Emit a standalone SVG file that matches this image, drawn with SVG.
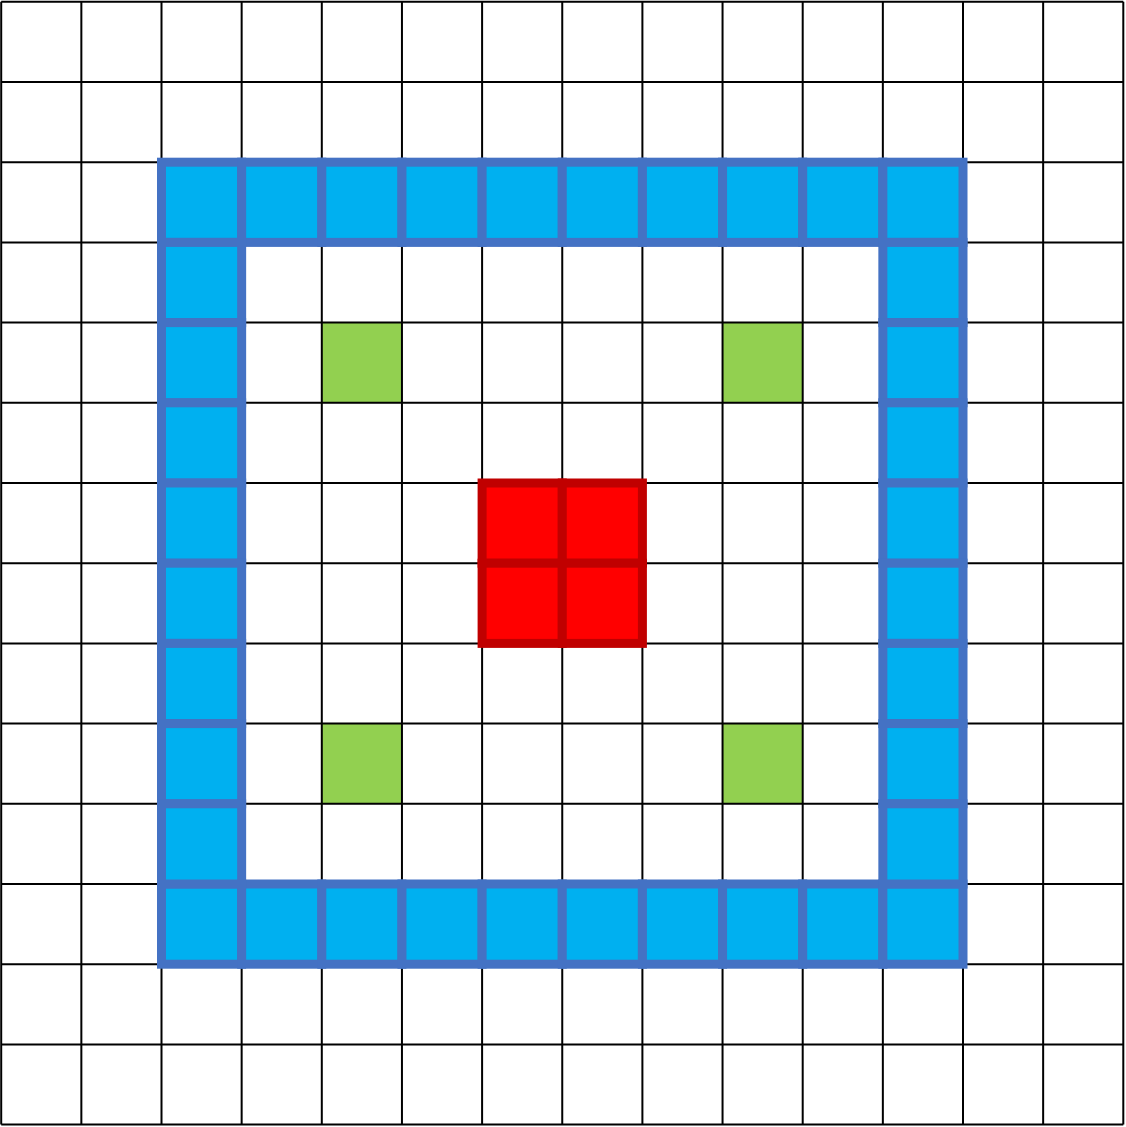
<svg xmlns="http://www.w3.org/2000/svg" width="1126" height="1127" viewBox="0 0 1126 1127">
<style>
.grid{stroke:#000;stroke-width:2;fill:none}
.g{fill:#92D050}
.b{fill:#00B0F0;stroke:#4472C4;stroke-width:9}
.r{fill:#FF0000;stroke:#C00000;stroke-width:9}
</style>
<rect width="1126" height="1127" fill="#fff"/>
<g id="green">
<rect class="g" x="321.8" y="322.6" width="80.15" height="80.2"/>
<rect class="g" x="722.55" y="322.6" width="80.15" height="80.2"/>
<rect class="g" x="321.8" y="723.6" width="80.15" height="80.2"/>
<rect class="g" x="722.55" y="723.6" width="80.15" height="80.2"/>
</g>
<g id="grid" class="grid">
<path d="M1.2 1.8V1124.6M81.35 1.8V1124.6M161.5 1.8V1124.6M241.65 1.8V1124.6M321.8 1.8V1124.6M401.95 1.8V1124.6M482.1 1.8V1124.6M562.25 1.8V1124.6M642.4 1.8V1124.6M722.55 1.8V1124.6M802.7 1.8V1124.6M882.85 1.8V1124.6M963 1.8V1124.6M1043.15 1.8V1124.6M1123.3 1.8V1124.6"/>
<path d="M1.2 1.8H1123.3M1.2 82H1123.3M1.2 162.2H1123.3M1.2 242.4H1123.3M1.2 322.6H1123.3M1.2 402.8H1123.3M1.2 483H1123.3M1.2 563.2H1123.3M1.2 643.4H1123.3M1.2 723.6H1123.3M1.2 803.8H1123.3M1.2 884H1123.3M1.2 964.2H1123.3M1.2 1044.4H1123.3M1.2 1124.6H1123.3"/>
</g>
<g id="wall">
<rect class="b" x="161.5" y="162.2" width="80.15" height="80.2"/>
<rect class="b" x="241.65" y="162.2" width="80.15" height="80.2"/>
<rect class="b" x="321.8" y="162.2" width="80.15" height="80.2"/>
<rect class="b" x="401.95" y="162.2" width="80.15" height="80.2"/>
<rect class="b" x="482.1" y="162.2" width="80.15" height="80.2"/>
<rect class="b" x="562.25" y="162.2" width="80.15" height="80.2"/>
<rect class="b" x="642.4" y="162.2" width="80.15" height="80.2"/>
<rect class="b" x="722.55" y="162.2" width="80.15" height="80.2"/>
<rect class="b" x="802.7" y="162.2" width="80.15" height="80.2"/>
<rect class="b" x="882.85" y="162.2" width="80.15" height="80.2"/>
<rect class="b" x="161.5" y="884" width="80.15" height="80.2"/>
<rect class="b" x="241.65" y="884" width="80.15" height="80.2"/>
<rect class="b" x="321.8" y="884" width="80.15" height="80.2"/>
<rect class="b" x="401.95" y="884" width="80.15" height="80.2"/>
<rect class="b" x="482.1" y="884" width="80.15" height="80.2"/>
<rect class="b" x="562.25" y="884" width="80.15" height="80.2"/>
<rect class="b" x="642.4" y="884" width="80.15" height="80.2"/>
<rect class="b" x="722.55" y="884" width="80.15" height="80.2"/>
<rect class="b" x="802.7" y="884" width="80.15" height="80.2"/>
<rect class="b" x="882.85" y="884" width="80.15" height="80.2"/>
<rect class="b" x="161.5" y="242.4" width="80.15" height="80.2"/>
<rect class="b" x="161.5" y="322.6" width="80.15" height="80.2"/>
<rect class="b" x="161.5" y="402.8" width="80.15" height="80.2"/>
<rect class="b" x="161.5" y="483" width="80.15" height="80.2"/>
<rect class="b" x="161.5" y="563.2" width="80.15" height="80.2"/>
<rect class="b" x="161.5" y="643.4" width="80.15" height="80.2"/>
<rect class="b" x="161.5" y="723.6" width="80.15" height="80.2"/>
<rect class="b" x="161.5" y="803.8" width="80.15" height="80.2"/>
<rect class="b" x="882.85" y="242.4" width="80.15" height="80.2"/>
<rect class="b" x="882.85" y="322.6" width="80.15" height="80.2"/>
<rect class="b" x="882.85" y="402.8" width="80.15" height="80.2"/>
<rect class="b" x="882.85" y="483" width="80.15" height="80.2"/>
<rect class="b" x="882.85" y="563.2" width="80.15" height="80.2"/>
<rect class="b" x="882.85" y="643.4" width="80.15" height="80.2"/>
<rect class="b" x="882.85" y="723.6" width="80.15" height="80.2"/>
<rect class="b" x="882.85" y="803.8" width="80.15" height="80.2"/>
</g>
<g id="center">
<rect class="r" x="482.1" y="483" width="80.15" height="80.2"/>
<rect class="r" x="562.25" y="483" width="80.15" height="80.2"/>
<rect class="r" x="482.1" y="563.2" width="80.15" height="80.2"/>
<rect class="r" x="562.25" y="563.2" width="80.15" height="80.2"/>
</g>
</svg>
